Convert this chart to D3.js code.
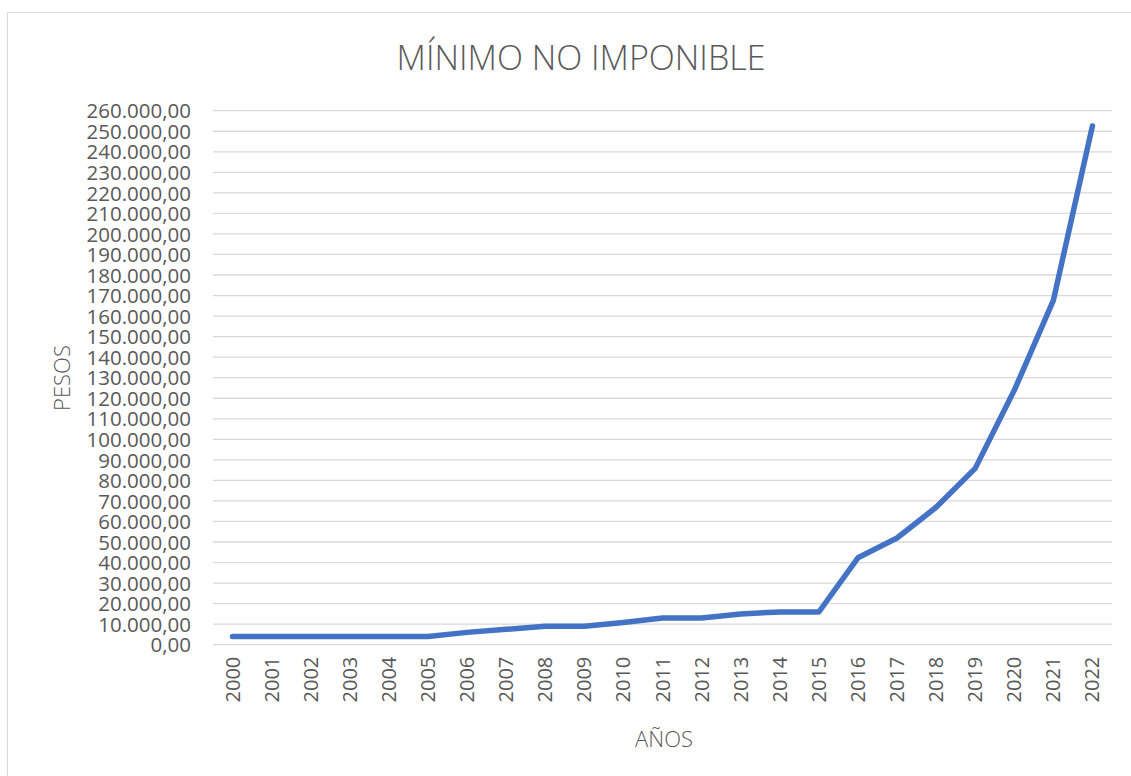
<!DOCTYPE html>
<html lang="es">
<head>
  <meta charset="UTF-8">
  <script src="https://cdn.jsdelivr.net/npm/d3@7"></script>
  <title>Mínimo no imponible</title>
  <style>
    body { margin: 0; background: #fff; }
    svg text { font-family: "Open Sans", "Liberation Sans", sans-serif; fill: #595959; }
  </style>
</head>
<body>
  <svg width="1131" height="776" id="chart"></svg>
  <script>

  // data
  let years = ["2000","2001","2002","2003","2004","2005","2006","2007","2008","2009","2010",
               "2011","2012","2013","2014","2015","2016","2017","2018","2019","2020","2021","2022"];
  let pesos = [4020, 4020, 4020, 4020, 4020, 4020, 6000, 7500, 9000, 9000, 10800,
               12960, 12960, 15000, 15917, 15917, 42318, 51967, 66917, 85848, 123861, 167678, 252564];
  let yTicks = d3.range(0, 260001, 10000);

  let svg = d3.select("#chart");

  // chart area border
  svg.append("rect")
    .attr("x", 7.5).attr("y", 12.5)
    .attr("width", 1130).attr("height", 800)
    .attr("fill", "none")
    .attr("stroke", "#d9d9d9")
    .attr("stroke-width", 1);

  let plotLeft = 213, plotRight = 1112, plotTop = 110.7, plotBottom = 644.7;

  /* SCALES */
  let scaleX = d3.scaleBand()
    .domain(years)
    .range([plotLeft, plotRight]);

  let scaleY = d3.scaleLinear()
    .domain([0, 260000])
    .range([plotBottom, plotTop]);

  // 260.000,00 style
  let fmt = d => d3.format(",.2f")(d).replace(/,/g, "#").replace(".", ",").replace(/#/g, ".");

  /* GRID */
  svg.append("g")
    .selectAll("line")
    .data(yTicks)
    .enter()
    .append("line")
    .attr("x1", plotLeft).attr("x2", plotRight)
    .attr("y1", d => scaleY(d)).attr("y2", d => scaleY(d))
    .attr("stroke", "#d9d9d9")
    .attr("stroke-width", 1.3);

  /* AXES */
  let axisY = d3.axisLeft(scaleY).tickValues(yTicks).tickFormat(fmt).tickSize(0).tickPadding(22);
  let gy = svg.append("g").attr("transform", `translate(${plotLeft},0)`).call(axisY);
  gy.select(".domain").remove();
  gy.selectAll("text").style("font-size", "20.5px").attr("dy", "0.35em");

  let axisX = d3.axisBottom(scaleX).tickSize(0).tickPadding(0);
  let gx = svg.append("g").attr("transform", `translate(0,${plotBottom})`).call(axisX);
  gx.select(".domain").remove();
  gx.selectAll("text")
    .style("font-size", "20px")
    .attr("text-anchor", "end")
    .attr("transform", "rotate(-90)")
    .attr("x", -12)
    .attr("y", 0)
    .attr("dy", "0.35em");

  /* LINE */
  let line = d3.line()
    .x((d, i) => scaleX(years[i]) + scaleX.bandwidth() / 2)
    .y(d => scaleY(d));

  svg.append("path")
    .datum(pesos)
    .attr("d", line)
    .attr("fill", "none")
    .attr("stroke", "#4472c4")
    .attr("stroke-width", 5.5)
    .attr("stroke-linecap", "round")
    .attr("stroke-linejoin", "round");

  /* TITLES */
  svg.append("text")
    .text("MÍNIMO NO IMPONIBLE")
    .attr("x", 581).attr("y", 70)
    .attr("text-anchor", "middle")
    .style("font-size", "34px")
    .style("font-weight", 300);

  svg.append("text")
    .text("AÑOS")
    .attr("x", 664).attr("y", 747)
    .attr("text-anchor", "middle")
    .style("font-size", "22px")
    .style("font-weight", 300);

  svg.append("text")
    .text("PESOS")
    .attr("transform", "translate(70,378) rotate(-90)")
    .attr("text-anchor", "middle")
    .style("font-size", "22px")
    .style("font-weight", 300);

  </script>
</body>
</html>
